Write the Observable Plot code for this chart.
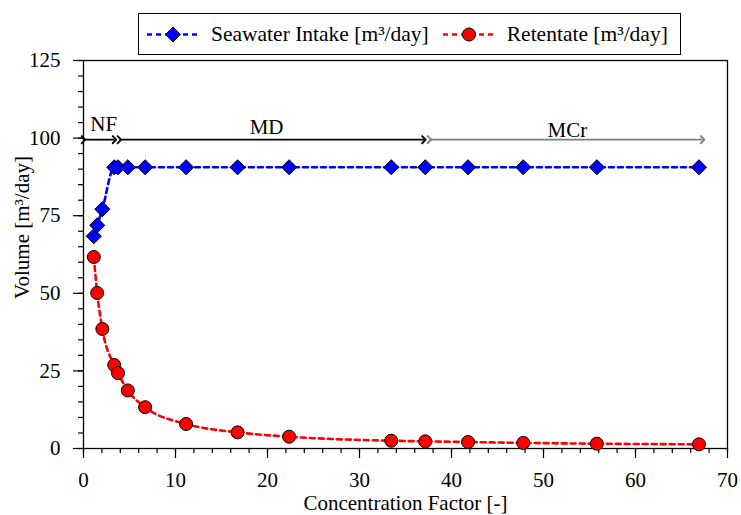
<!DOCTYPE html>
<html>
<head>
<meta charset="utf-8">
<script src="https://cdn.jsdelivr.net/npm/d3@7"></script>
<script src="https://cdn.jsdelivr.net/npm/@observablehq/plot@0.6"></script>
<style>
  body { margin: 0; background: #fff; }
  #wrap { position: relative; width: 741px; height: 515px; font-family: "Liberation Serif", "DejaVu Serif", serif; }
  #wrap svg text { font-family: "Liberation Serif", "DejaVu Serif", serif; font-size: 21px; }
  #legend { position: absolute; left: 138px; top: 13px; width: 541px; height: 40px; border: 1px solid #000; background: #fff;
            display: flex; align-items: center; font-family: "Liberation Serif", "DejaVu Serif", serif; font-size: 21.5px; color: #000; white-space: nowrap; }
  #legend svg { display: block; }
  .item { display: flex; align-items: center; }
</style>
</head>
<body>
<div id="wrap"></div>
<script>
// ---- data ----
const concentrationFactor = [1.12, 1.49, 2.05, 3.34, 3.75, 4.82, 6.7, 11.15, 16.75, 22.35, 33.45, 37.15, 41.8, 47.8, 55.8, 66.9];
const seawaterIntake = [68.4, 71.9, 77.1, 90.6, 90.6, 90.6, 90.6, 90.6, 90.6, 90.6, 90.6, 90.6, 90.6, 90.6, 90.6, 90.6];
const retentate = [61.7, 50.1, 38.5, 26.9, 24.3, 18.7, 13.3, 7.9, 5.2, 3.8, 2.5, 2.3, 2.1, 1.8, 1.55, 1.35];

const xMajorTicks = [0, 10, 20, 30, 40, 50, 60, 70];
const xMinorTicks = d3.range(0, 71, 2);
const yMajorTicks = [0, 25, 50, 75, 100, 125];
const yMinorTicks = d3.range(0, 126, 5);

const xTitle = "Concentration Factor [-]";
const yTitle = "Volume [m³/day]";

const regionNames = ["NF", "MD", "MCr"];
const regionStart = [0, 3.9, 37.6];
const regionEnd = [3.37, 37.0, 67.3];
const regionArrowY = [99.5, 99.5, 99.5];
const regionLabelX = [2.2, 19.9, 52.6];
const regionLabelY = [104.4, 103.6, 102.6];
const regionColor = ["#000000", "#000000", "#7f7f7f"];

const intakeData = concentrationFactor.map((x, i) => ({x, y: seawaterIntake[i]}));
const retentateData = concentrationFactor.map((x, i) => ({x, y: retentate[i]}));
const regions = regionNames.map((name, i) => ({name, x1: regionStart[i], x2: regionEnd[i], y: regionArrowY[i], lx: regionLabelX[i], ly: regionLabelY[i], color: regionColor[i]}));

const fontFamily = "Liberation Serif, DejaVu Serif, serif";

const chart = Plot.plot({
  width: 741,
  height: 515,
  marginLeft: 83,
  marginRight: 14,
  marginTop: 60,
  marginBottom: 67,
  style: {fontFamily, fontSize: "21px", color: "#000", background: "#fff", overflow: "visible"},
  x: {domain: [0, 70]},
  y: {domain: [0, 125]},
  marks: [
    // minor ticks
    Plot.axisX({ticks: xMinorTicks, tickSize: 5, tickFormat: () => "", label: null, strokeWidth: 1.2}),
    Plot.axisY({ticks: yMinorTicks, tickSize: 5, tickFormat: () => "", label: null, strokeWidth: 1.2}),
    // major ticks
    Plot.axisX({ticks: xMajorTicks, tickSize: 10, tickPadding: 14, fontSize: 21, fontFamily, strokeWidth: 1.2,
      label: xTitle, labelAnchor: "center", labelOffset: 61, labelArrow: false}),
    Plot.axisY({ticks: yMajorTicks, tickSize: 10, tickPadding: 13, fontSize: 21, fontFamily, strokeWidth: 1.2, label: null}),
    Plot.text([yTitle], {text: d => d, frameAnchor: "left", textAnchor: "middle", lineAnchor: "middle", dx: -61, dy: -27, rotate: -90, fontSize: 21, fontFamily, fill: "#000"}),
    Plot.frame({stroke: "#000", strokeWidth: 1.3}),
    // region arrows
    Plot.link(regions, {x1: "x1", x2: "x2", y1: "y", y2: "y", stroke: "color", strokeWidth: 1.8, markerStart: "arrow", markerEnd: "arrow"}),
    Plot.text(regions, {x: "lx", y: "ly", text: "name", fontSize: 21, fontFamily, fill: "#000"}),
    // series
    Plot.line(intakeData, {x: "x", y: "y", stroke: "#0000ff", strokeWidth: 2.6, strokeDasharray: "5,4", curve: "monotone-x"}),
    Plot.line(retentateData, {x: "x", y: "y", stroke: "#ff0000", strokeWidth: 2.6, strokeDasharray: "5,4", curve: "monotone-x"}),
    Plot.dot(intakeData, {x: "x", y: "y", symbol: "diamond2", r: 6.8, fill: "#0000ff", stroke: "#000", strokeWidth: 1}),
    Plot.dot(retentateData, {x: "x", y: "y", symbol: "circle", r: 6.5, fill: "#ff0000", stroke: "#000", strokeWidth: 1})
  ]
});

const wrap = document.getElementById("wrap");
wrap.appendChild(chart);

// legend
const legend = document.createElement("div");
legend.id = "legend";
function swatch(color, shape) {
  const sym = shape === "diamond"
    ? `<path d="M28,11 L35.5,18.5 L28,26 L20.5,18.5 Z" fill="${color}" stroke="#000" stroke-width="1"/>`
    : `<circle cx="28" cy="18.5" r="6.5" fill="${color}" stroke="#000" stroke-width="1"/>`;
  return `<svg width="56" height="37"><line x1="2" x2="54" y1="18.5" y2="18.5" stroke="${color}" stroke-width="2.6" stroke-dasharray="5,4"/>${sym}</svg>`;
}
legend.innerHTML =
  `<div class="item" style="margin-left:6px">${swatch("#0000ff", "diamond")}<span style="margin-left:10px">Seawater Intake [m³/day]</span></div>` +
  `<div class="item" style="margin-left:12px">${swatch("#ff0000", "circle")}<span style="margin-left:10px">Retentate [m³/day]</span></div>`;
wrap.appendChild(legend);
</script>
</body>
</html>
